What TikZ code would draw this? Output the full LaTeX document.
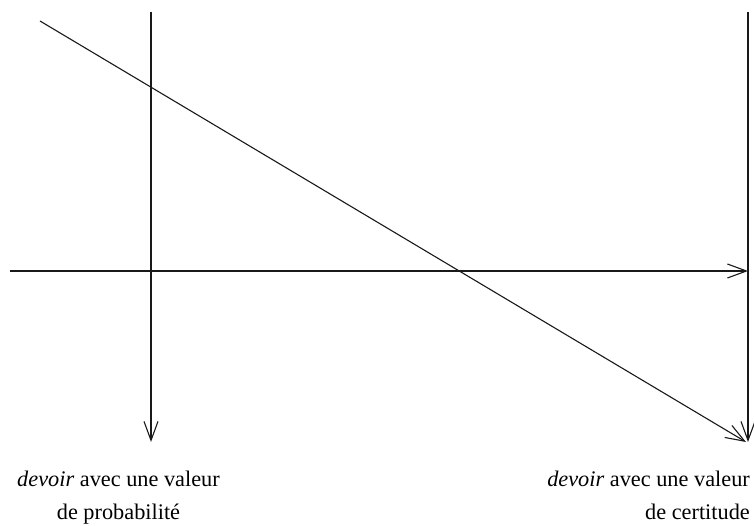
\documentclass[tikz,border=0pt]{standalone}
\usepackage{fontspec}
\setmainfont{Liberation Serif}
\usetikzlibrary{arrows.meta}
\tikzset{
  axis/.style={line width=1.1pt, draw=black!90, -{Straight Barb[length=19pt,width=14pt,line width=1.1pt]}},
  lbl/.style={inner sep=0pt, font=\fontsize{22.3}{33}\selectfont}
}
\begin{document}
\begin{tikzpicture}[x=1pt,y=1pt]
\useasboundingbox (0,0) rectangle (754,525);
\coordinate (LT) at (151,513);
\coordinate (LB) at (151,83);
\coordinate (RT) at (748,513);
\coordinate (RB) at (748,83);
\coordinate (HL) at (10,254);
\coordinate (HR) at (748,254);
\coordinate (DA) at (40,504);
\coordinate (DB) at (746,83);
\draw[axis] (LT) -- (LB);
\draw[axis] (RT) -- (RB);
\draw[axis] (HL) -- (HR);
\draw[axis] (DA) -- (DB);
\node[lbl, anchor=north, align=center] (left) at (118.5,54) {\textit{devoir} avec une valeur\\de probabilité};
\node[lbl, anchor=north east, align=right] (right) at (750,54) {\textit{devoir} avec une valeur\\de certitude};
\end{tikzpicture}
\end{document}
